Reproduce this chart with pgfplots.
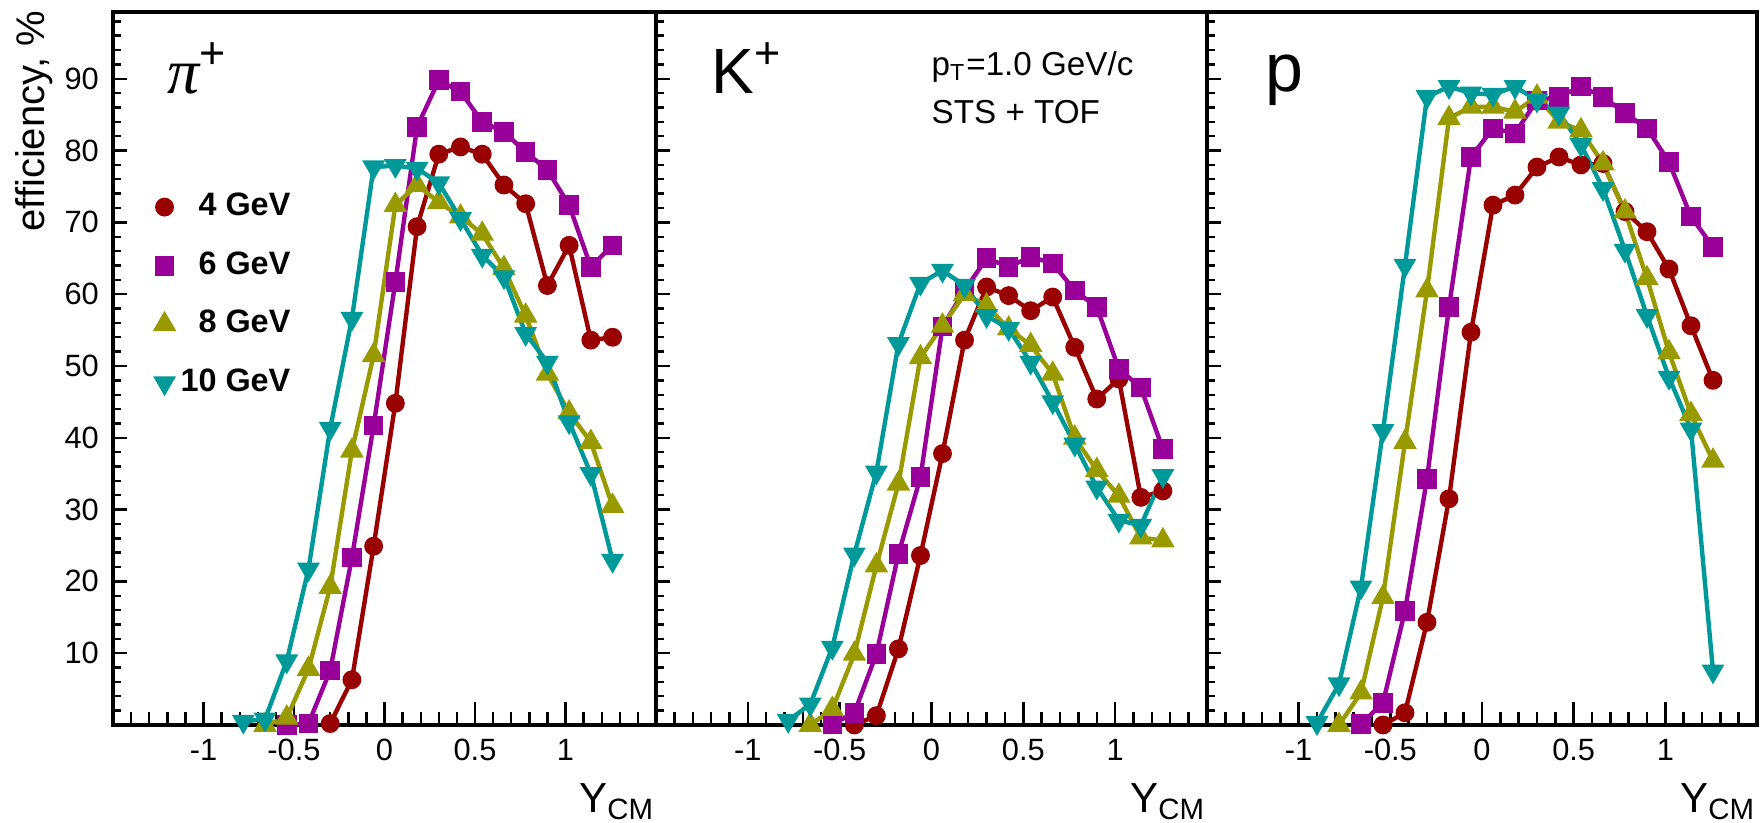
\documentclass[border=0pt]{standalone}
\usepackage{fontspec}
\setmainfont{Liberation Sans}
\newfontfamily\serifit{Liberation Serif}
\usepackage{pgfplots}
\pgfplotsset{compat=1.18}
\usepackage{pgfplotstable}

\definecolor{cRed}{RGB}{153,0,0}
\definecolor{cMag}{RGB}{153,0,153}
\definecolor{cOli}{RGB}{153,153,0}
\definecolor{cCya}{RGB}{0,153,153}

% efficiency vs rapidity, one table per particle
\pgfplotstableread{
x     e4    e6    e8    e10
-0.78 nan   nan   nan   0.5
-0.66 nan   nan   0.0   0.8
-0.54 nan   0.0   1.0   8.9
-0.42 nan   0.2   7.8   21.7
-0.30 0.2   7.6   19.2  41.3
-0.18 6.3   23.3  38.2  56.6
-0.06 24.9  41.7  51.5  77.7
0.06  44.8  61.7  72.4  77.9
0.18  69.4  83.3  75.2  77.5
0.30  79.5  89.8  72.8  75.5
0.42  80.5  88.2  70.8  70.5
0.54  79.5  84.0  68.4  65.4
0.66  75.2  82.6  63.6  62.4
0.78  72.6  79.8  57.0  54.5
0.90  61.2  77.3  48.9  50.5
1.02  66.8  72.4  43.5  42.2
1.14  53.6  63.8  39.4  35.0
1.26  54.0  66.8  30.5  22.9
}\pion

\pgfplotstableread{
x     e4    e6    e8    e10
-0.78 nan   nan   nan   0.6
-0.66 nan   nan   0.0   2.9
-0.54 nan   0.1   2.2   10.8
-0.42 0.0   1.7   9.9   23.8
-0.30 1.3   9.9   22.2  35.2
-0.18 10.6  23.8  33.6  53.1
-0.06 23.6  34.5  51.2  61.5
0.06  37.8  55.5  55.6  63.3
0.18  53.6  60.5  60.0  61.2
0.30  61.0  65.0  58.4  57.0
0.42  59.8  63.8  55.2  55.2
0.54  57.7  65.2  52.9  50.5
0.66  59.6  64.3  48.9  45.0
0.78  52.6  60.5  40.0  39.1
0.90  45.4  58.2  35.5  33.1
1.02  48.2  49.6  31.9  28.5
1.14  31.7  47.0  26.1  27.8
1.26  32.6  38.4  25.7  34.7
}\kaon

\pgfplotstableread{
x     e4    e6    e8    e10
-0.90 nan   nan   nan   0.3
-0.78 nan   nan   0.0   5.7
-0.66 nan   0.1   4.5   19.2
-0.54 0.0   3.1   17.8  41.0
-0.42 1.7   15.9  39.4  64.0
-0.30 14.3  34.3  60.5  87.5
-0.18 31.5  58.2  84.5  88.9
-0.06 54.7  79.1  86.1  88.0
0.06  72.4  83.1  86.1  87.8
0.18  73.8  82.4  85.4  88.9
0.30  77.7  87.0  87.5  87.0
0.42  79.1  87.5  84.0  85.2
0.54  78.0  88.9  82.8  80.8
0.66  78.2  87.5  78.2  74.7
0.78  71.5  85.2  71.5  66.1
0.90  68.7  83.1  62.2  57.0
1.02  63.5  78.4  51.9  48.4
1.14  55.6  70.8  43.3  41.2
1.26  48.0  66.6  36.8  7.5
}\proton

\pgfplotsset{
  panel/.style={
    scale only axis, height=178.25pt,
    xmin=-1.5, xmax=1.5, ymin=0, ymax=99.3,
    xtick={-1.5,-1,-0.5,0,0.5,1,1.5},
    xticklabels={,-1,-0.5,0,0.5,1,},
    minor x tick num=4,
    ytick={0,10,20,30,40,50,60,70,80,90,100},
    minor y tick num=4,
    tick align=inside, xtick pos=bottom, ytick pos=left,
    axis line style={line width=0.8pt},
    every tick/.style={black, line width=0.6pt},
    major tick length=5.8pt, minor tick length=3.3pt,
    y tick style={/pgfplots/major tick length=3.6pt, /pgfplots/minor tick length=2pt},
    tick label style={font=\fontsize{7.7}{9}\selectfont},
    clip=false,
    every axis plot/.append style={line width=1.1pt},
  },
  s4/.style={color=cRed, mark=*, mark size=1.8pt},
  s6/.style={color=cMag, mark=square*, mark size=1.9pt},
  s8/.style={color=cOli, mark=triangle*, mark size=2.3pt},
  s10/.style={color=cCya, mark=triangle*, mark size=2.2pt, mark options={rotate=180}},
}

\newcommand{\ycm}{\node[anchor=base east, inner sep=0pt, font=\fontsize{10.5}{12}\selectfont]
  at ([yshift=-22pt]rel axis cs:1,0) {Y\textsubscript{CM}};}

\begin{document}
\begin{tikzpicture}
\useasboundingbox (0,0) rectangle (440pt,205.75pt);

\node[rotate=90, anchor=base east, inner sep=0pt, font=\fontsize{10}{12}\selectfont]
  at (11.25pt,203.25pt) {efficiency, \%};

% pi+
\begin{axis}[panel, width=135.75pt, at={(28.25pt,24.5pt)}, anchor=south west,
    yticklabels={,10,20,30,40,50,60,70,80,90,},
    legend style={at={(rel axis cs:0.365,0.77)}, anchor=north east, draw=none, fill=none,
      font=\fontsize{8.1}{9}\bfseries\selectfont, row sep=3.5pt, cells={anchor=east}},
    legend cell align=right,
    legend image code/.code={\draw[#1] plot[only marks] coordinates {(0.2cm,0cm)};}]
\addplot[s4]  table[x=x,y=e4]  {\pion};
\addplot[s6]  table[x=x,y=e6]  {\pion};
\addplot[s8]  table[x=x,y=e8]  {\pion};
\addplot[s10] table[x=x,y=e10] {\pion};
\legend{4 GeV,6 GeV,8 GeV,10 GeV}
\node[anchor=base west, inner sep=0pt] at (rel axis cs:0.098,0.886)
  {\fontsize{16}{16}\selectfont{\serifit\itshape π}\textsuperscript{+}};
\ycm
\end{axis}

% K+
\begin{axis}[panel, width=137.75pt, at={(164pt,24.5pt)}, anchor=south west, yticklabels={}]
\addplot[s4]  table[x=x,y=e4]  {\kaon};
\addplot[s6]  table[x=x,y=e6]  {\kaon};
\addplot[s8]  table[x=x,y=e8]  {\kaon};
\addplot[s10] table[x=x,y=e10] {\kaon};
\node[anchor=base west, inner sep=0pt] at (rel axis cs:0.1,0.886)
  {\fontsize{16}{16}\selectfont K\textsuperscript{+}};
\node[anchor=base west, inner sep=0pt, font=\fontsize{8.3}{10}\selectfont] at (rel axis cs:0.499,0.9115)
  {p\textsubscript{T}=1.0 GeV/c};
\node[anchor=base west, inner sep=0pt, font=\fontsize{8.3}{10}\selectfont] at (rel axis cs:0.499,0.844)
  {STS + TOF};
\ycm
\end{axis}

% p
\begin{axis}[panel, width=137.5pt, at={(301.75pt,24.5pt)}, anchor=south west, yticklabels={}]
\addplot[s4]  table[x=x,y=e4]  {\proton};
\addplot[s6]  table[x=x,y=e6]  {\proton};
\addplot[s8]  table[x=x,y=e8]  {\proton};
\addplot[s10] table[x=x,y=e10] {\proton};
\node[anchor=base west, inner sep=0pt] at (rel axis cs:0.105,0.889)
  {\fontsize{17}{17}\selectfont p};
\ycm
\end{axis}
\end{tikzpicture}
\end{document}
